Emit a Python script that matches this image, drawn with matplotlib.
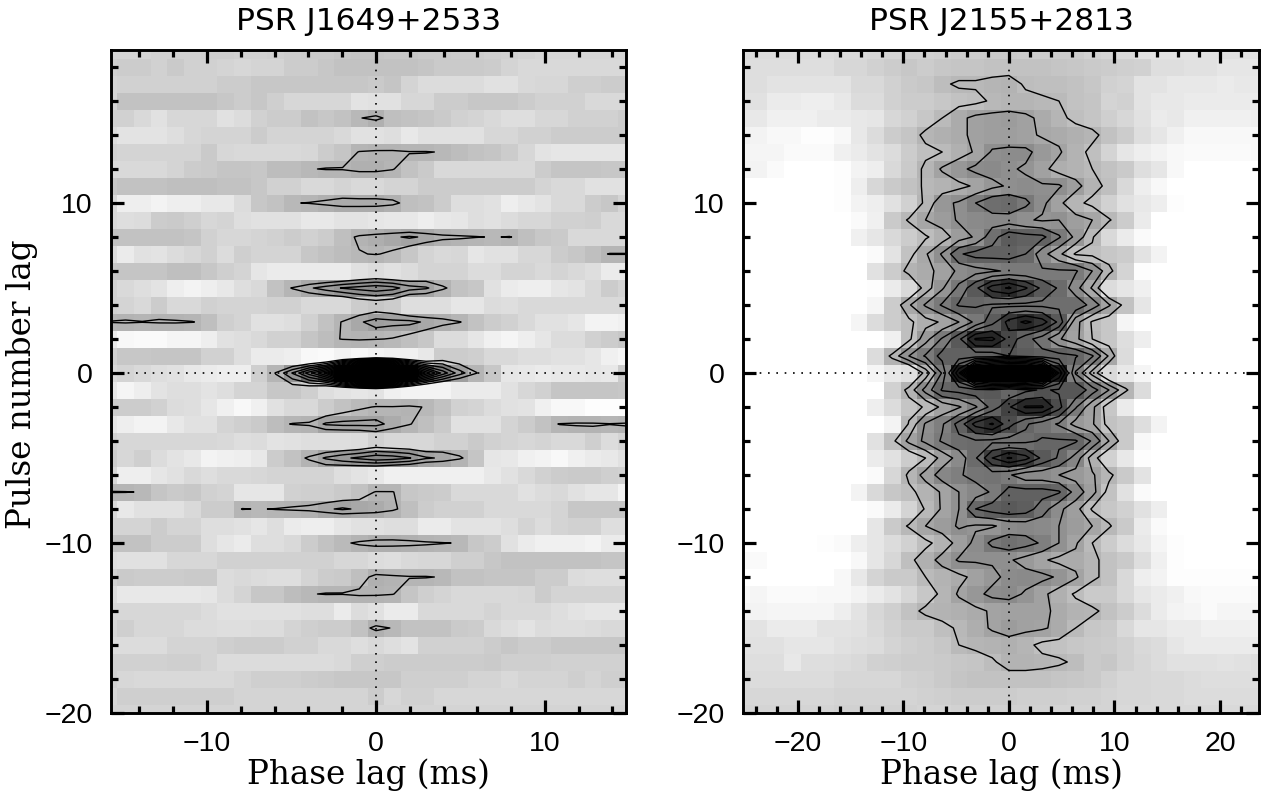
import numpy as np
import matplotlib
matplotlib.use("Agg")
import matplotlib.pyplot as plt
from matplotlib.ticker import MultipleLocator

# pulse number lag of each row, phase bin index of each column
lags = list(range(19, -21, -1))
bins = list(range(-16, 16))
bin_ms_left = 0.988
bin_ms_right = 1.58

# darkness (0 white, 100 black), columns are bins -16..15
left_rows = [
    [17,17,17,18,18,18,19,19,18,18,19,20,21,21,22,23,23, 22,22,21,21,20,20,19,18,17,16,16,16,16,16,16],
    [19,20,20,18,21,18,18,17,16,17,17,20,20,22,24,24,24, 24,24,23,21,21,21,20,17,15,15,15,15,15,15,15],
    [17,18,18,18,18,18,18,20,20,22,22,22,22,22,22,22,21, 23,17,14,14,14,14,12,12,15,16,16,19,19,20,20],
    [17,24,24,24,24,24,24,22,20,22,19,16,16,16,16,11,12, 12,16,16,20,20,22,22,22,20,18,18,18,15,15,15],
    [18,18,15,12,16,16,16,12,14,18,20,20,24,22,24,28,31, 25,24,23,21,18,17,15,13,13,16,16,18,18,18,20],
    [14,11,11,11,13,16,17,17,17,20,17,17,17,17,15,12,12, 13,9,12,12,12,12,16,16,18,18,20,20,20,20,20],
    [18,17,17,17,17,17,21,16,15,15,15,15,16,20,23,29,30, 30,29,29,28,26,24,23,20,16,11,10,10,10,10,10],
    [15,15,15,15,17,20,21,23,23,22,26,26,28,29,29,31,31, 29,24,21,15,15,15,15,15,15,20,23,23,23,22,22],
    [22,24,24,24,25,25,25,24,24,22,18,18,15,15,17,15,15, 17,17,20,20,20,20,20,20,20,17,15,15,12,12,12],
    [15,7,7,5,7,7,9,9,14,22,24,28,29,31,33,33,33, 31,25,24,20,13,13,12,7,9,11,15,15,20,22,17],
    [15,13,14,20,21,19,16,17,13,12,12,12,9,9,11,11,10, 9,9,7,9,10,13,12,14,16,16,18,18,19,15,15],
    [24,24,24,24,24,23,18,16,16,17,18,20,18,20,25,30,32, 34,36,34,31,30,29,28,29,25,22,21,15,15,15,15],
    [14,8,12,11,14,16,18,14,19,17,17,17,22,24,26,28,29, 27,22,17,15,16,10,12,12,16,16,20,22,25,29,29],
    [22,23,23,23,25,25,22,19,17,10,8,8,8,8,8,12,14, 12,14,17,17,17,14,14,17,17,15,17,15,13,8,8],
    [18,15,13,11,7,5,7,9,13,15,24,29,34,38,42,44,46, 44,38,36,30,24,22,12,8,7,7,10,11,15,20,17],
    [18,17,15,20,15,15,18,17,17,17,18,18,15,15,15,20,22, 20,13,13,13,10,10,14,13,15,15,15,15,15,15,15],
    [29,30,29,30,30,29,25,19,17,12,12,13,18,24,29,34,38, 37,37,34,32,29,24,20,18,15,12,12,10,5,5,6],
    [8,3,2,2,4,4,7,12,13,15,18,18,23,26,29,30,29, 28,25,22,14,14,10,6,4,7,10,14,14,18,20,22],
    [18,22,22,23,23,23,18,18,13,8,8,7,3,2,5,3,5, 6,6,9,20,20,19,15,15,13,13,12,12,10,6,4],
    [15,17,15,13,12,9,8,7,7,19,29,42,58,76,115,175,225, 175,110,72,52,38,29,22,10,9,8,9,9,10,9,20],
    [9,4,7,11,13,13,11,13,17,17,22,22,19,13,11,10,11, 6,5,5,5,8,8,8,12,16,18,23,23,23,23,22],
    [20,20,20,18,14,13,10,6,3,6,12,15,15,20,24,27,29, 29,30,28,24,18,17,14,12,11,6,3,3,1,1,1],
    [10,7,5,5,9,12,12,17,19,21,26,29,30,36,37,37,37, 33,29,25,21,12,12,12,17,20,24,29,30,30,29,30],
    [18,16,16,16,16,16,16,15,13,14,11,12,13,13,13,14,18, 16,16,16,18,18,21,18,17,16,17,15,15,19,14,17],
    [20,16,19,14,11,9,5,6,7,9,20,24,30,36,40,43,46, 45,42,36,34,30,23,10,9,6,5,3,6,8,9,12],
    [16,7,7,10,12,15,13,15,15,16,17,17,17,17,13,11,9, 6,6,6,6,6,6,9,12,15,18,20,21,21,19,18],
    [29,29,28,23,21,22,18,17,10,10,10,18,19,19,21,24,29, 29,22,21,20,15,15,15,15,12,14,15,12,10,10,5],
    [15,9,12,12,12,15,20,20,29,28,29,30,31,34,36,34,33, 30,25,20,18,18,18,15,15,15,15,17,22,22,22,22],
    [17,17,17,20,17,17,13,13,12,10,13,8,7,7,10,12,12, 13,13,8,8,11,11,11,13,17,14,17,18,18,13,13],
    [24,24,24,20,20,20,13,10,8,13,13,15,20,24,27,30,32, 32,31,30,29,28,22,20,12,8,6,6,6,5,8,8],
    [13,12,12,12,16,16,16,18,18,18,18,18,18,18,16,16,14, 13,15,16,16,19,19,22,24,24,24,24,24,24,23,23],
    [18,21,20,20,20,21,21,14,15,14,13,13,17,20,21,25,31, 30,29,29,28,24,24,23,23,23,20,20,14,13,13,13],
    [14,9,9,9,9,9,10,14,17,22,22,26,28,29,29,30,30, 29,23,19,17,15,15,15,15,16,20,17,17,17,17,17],
    [16,16,16,16,16,16,14,12,12,12,12,12,13,13,8,14,12, 8,8,15,15,15,15,17,15,15,15,13,11,10,10,10],
    [16,19,16,16,16,14,14,13,13,14,14,17,19,20,20,24,31, 28,24,24,24,21,20,15,13,11,14,13,13,14,15,15],
    [14,14,14,14,17,17,17,19,20,20,20,18,18,15,15,13,15, 13,11,18,18,18,18,20,22,20,20,22,22,22,22,22],
    [18,18,18,18,19,19,17,14,14,14,14,14,14,14,15,19,19, 20,20,20,20,20,20,21,19,19,19,18,18,18,18,18],
    [18,16,15,15,15,15,15,15,17,19,19,19,20,21,22,22,22, 22,19,19,19,19,17,17,15,17,17,17,19,17,19,19],
    [16,19,19,19,19,19,19,19,17,17,17,17,17,17,17,17,20, 16,18,18,16,16,16,16,16,16,16,16,16,16,16,16],
    [17,17,17,17,17,17,17,17,17,17,17,17,17,17,17,17,17, 17,17,17,17,17,17,17,17,17,17,17,17,17,17,17],
]

right_rows = [
    [14,14,14,14,14,14,15,15,16,17,18, 18,19,20,20,21,21,20,20,20,20,18, 17,15,12,12,12,12,12,12,12,12],
    [13,13,13,13,13,13,16,16,18,20,22, 20,22,23,23,24,24,24,24,23,22,21, 20,19,18,13,13,12,12,10,10,10],
    [13,13,11,11,11,11,11,15,15,18,21, 22,26,28,28,29,30,26,25,25,24,22, 18,17,11,11,9,9,9,8,9,9],
    [12,12,8,8,7,7,9,14,14,18,20, 20,22,24,25,28,29,29,28,27,24,23, 17,18,11,9,9,8,8,8,8,8],
    [9,9,6,6,6,8,8,9,10,16,18, 22,27,33,37,38,39,37,33,29,25,23, 19,16,12,8,9,6,6,6,6,7],
    [6,5,3,3,1,1,3,9,14,20,23, 29,31,33,37,38,38,37,34,33,31,29, 24,20,13,10,6,3,3,3,3,3],
    [4,4,4,2,2,2,6,8,11,14,20, 25,27,31,36,44,45,45,40,36,30,25, 17,10,7,5,3,2,2,2,2,3],
    [5,5,2,0,0,0,1,5,7,15,21, 29,36,41,45,46,44,42,37,32,30,27, 24,21,13,10,3,0,0,0,0,0],
    [0,0,0,0,0,0,1,7,16,21,24, 28,30,33,36,41,44,45,44,44,38,30, 25,15,7,3,0,0,0,0,0,0],
    [0,0,0,0,0,0,1,5,7,12,18, 29,41,44,51,57,58,53,45,37,29,25, 18,12,9,7,1,0,0,0,0,0],
    [0,0,0,0,0,0,0,2,6,21,28, 35,39,44,46,47,47,44,42,43,38,35, 28,20,8,0,0,0,0,0,0,0],
    [0,0,0,0,0,0,0,6,10,15,20, 26,31,39,44,56,64,62,61,52,41,28, 15,8,2,0,0,0,0,0,0,0],
    [0,0,0,0,0,0,0,0,2,11,24, 34,44,58,62,62,62,59,46,37,26,25, 22,20,11,5,0,0,0,0,0,0],
    [0,0,0,0,0,0,0,0,12,20,30, 33,37,45,48,50,52,52,52,52,52,43, 30,17,1,0,0,0,0,0,0,0],
    [0,0,0,0,0,0,0,0,1,8,15, 31,42,53,65,79,84,76,65,58,46,34, 14,10,6,0,0,0,0,0,0,0],
    [0,0,0,0,0,0,0,0,4,20,34, 44,52,60,60,58,57,57,57,57,57,48, 36,24,10,0,0,0,0,0,0,0],
    [0,0,0,0,0,0,0,4,14,20,25, 32,36,43,53,64,78,85,79,65,38,26, 22,4,0,0,0,0,0,0,0,0],
    [0,0,0,0,0,0,0,0,0,6,25, 40,52,65,84,85,72,62,55,44,37,27, 22,13,7,0,0,0,0,0,0,0],
    [0,0,0,0,0,0,0,0,14,30,43, 52,62,62,62,62,67,64,62,62,60,52, 34,14,0,0,0,0,0,0,0,0],
    [0,0,0,0,0,0,0,0,4,9,12, 30,52,90,150,170,175,175,150,90,50,32, 15,9,4,0,0,0,0,0,0,0],
    [0,0,0,0,0,0,0,0,0,18,30, 46,60,62,64,65,60,65,68,66,66,55, 43,29,14,0,0,0,0,0,0,0],
    [0,0,0,0,0,0,0,0,7,14,23, 28,37,42,50,62,74,84,84,70,52,37, 22,8,0,0,0,0,0,0,0,0],
    [0,0,0,0,0,0,0,0,0,5,28, 44,50,62,78,84,70,60,55,50,40,36, 24,21,13,5,0,0,0,0,0,0],
    [0,0,0,0,0,0,0,0,12,25,37, 45,52,57,58,57,56,57,60,60,60,50, 35,21,3,0,0,0,0,0,0,0],
    [0,0,0,0,0,0,0,0,8,12,20, 27,38,46,58,75,84,78,65,58,48,31, 18,9,1,0,0,0,0,0,0,0],
    [0,0,0,0,0,0,0,0,2,16,29, 38,47,50,54,55,52,46,46,43,40,36, 29,21,11,0,0,0,0,0,0,0],
    [0,0,0,0,0,0,0,5,15,22,25, 30,36,43,47,52,62,62,62,60,48,38, 24,12,2,0,0,0,0,0,0,0],
    [0,0,0,0,0,0,0,0,2,8,17, 28,36,43,59,63,65,63,55,45,38,26, 22,18,12,7,0,0,0,0,0,0],
    [0,0,0,0,0,0,0,0,10,21,28, 35,39,44,42,42,46,47,46,43,39,35, 28,21,8,2,0,0,0,0,0,0],
    [0,0,0,0,0,1,2,7,10,14,18, 25,30,38,45,53,56,54,50,43,36,27, 20,14,9,4,1,0,0,0,0,0],
    [3,2,0,0,0,0,0,3,10,16,25, 31,38,44,44,44,44,40,36,33,33,29, 24,21,13,6,1,0,0,0,0,0],
    [0,0,0,0,0,0,3,9,17,21,21, 27,30,33,37,41,45,46,45,42,36,29, 24,15,7,5,1,1,1,1,1,1],
    [3,4,2,2,2,3,3,5,8,11,16, 22,29,36,41,45,46,42,37,31,26,21, 21,15,10,8,6,3,2,2,2,3],
    [5,5,4,4,4,4,7,11,16,19,24, 29,30,31,33,36,37,37,37,33,30,29, 24,20,14,8,5,4,2,4,4,4],
    [11,11,8,8,8,11,11,12,15,18,21, 21,25,28,32,36,39,37,36,33,27,22, 21,15,10,10,8,8,6,6,6,6],
    [12,12,12,10,10,10,12,13,14,17,19, 20,22,27,29,30,31,29,25,24,22,21, 20,18,15,14,10,8,8,8,8,8],
    [13,13,13,9,13,13,14,15,18,19,20, 20,21,22,23,26,30,30,29,28,26,21, 22,18,16,14,12,12,12,11,12,13],
    [16,14,14,14,14,14,16,16,16,16,18, 19,21,23,24,24,24,24,24,23,22,21, 18,16,16,15,15,14,13,13,13,13],
    [16,16,16,16,16,16,17,17,17,17,17, 18,19,20,20,20,20,19,19,19,18,18, 17,16,16,15,15,14,14,14,14,14],
    [17,17,17,17,17,17,18,18,18,18,18, 17,17,18,18,18,18,18,18,17,17,17, 17,15,15,15,15,15,15,15,15,15],
]

# contour levels, in the same darkness units
left_levels = [28.5 + 6.5 * k for k in range(31)]
right_levels = [27 + 8 * k for k in range(20)]

titles = ["PSR J1649+2533", "PSR J2155+2813"]

W, H = 1263, 796
fig = plt.figure(figsize=(W / 100, H / 100), dpi=100)


def draw_panel(box, rows, bin_ms, levels, xlim, title):
    left, right, top, bottom = box
    ax = fig.add_axes([left / W, 1 - bottom / H, (right - left) / W, (bottom - top) / H])
    z = np.array(rows, dtype=float)
    x = np.array(bins) * bin_ms
    y = np.array(lags, dtype=float)
    ax.pcolormesh(x, y, z, cmap="gray_r", vmin=0, vmax=100, shading="nearest")
    ax.contour(x, y, z, levels=levels, colors="black", linewidths=1.0, linestyles="solid")
    ax.axhline(0, color="black", lw=1.2, ls=(0, (1, 4)))
    ax.axvline(0, color="black", lw=1.2, ls=(0, (1, 4)))
    ax.set_xlim(xlim)
    ax.set_ylim(-20, 19)
    ax.xaxis.set_major_locator(MultipleLocator(10))
    ax.yaxis.set_major_locator(MultipleLocator(10))
    ax.xaxis.set_minor_locator(MultipleLocator(2))
    ax.yaxis.set_minor_locator(MultipleLocator(2))
    ax.tick_params(which="both", direction="in", top=True, right=True, width=2.3)
    ax.tick_params(which="major", length=9.5, labelsize=20.5, pad=13)
    ax.tick_params(which="minor", length=5)
    for lab in ax.get_xticklabels() + ax.get_yticklabels():
        lab.set_family("Liberation Sans")
    for s in ax.spines.values():
        s.set_linewidth(2.1)
    fig.text((left + right) / 2 / W, 1 - 22 / H, title, ha="center", va="center",
             fontsize=22.5, family="DejaVu Sans")
    fig.text((left + right) / 2 / W, 1 - 775 / H, "Phase lag (ms)", ha="center", va="center",
             fontsize=23.5, family="DejaVu Serif")
    return ax


draw_panel((111, 626, 50, 713), left_rows, bin_ms_left, left_levels, (-15.68, 14.8), titles[0])
draw_panel((743, 1259, 50, 713), right_rows, bin_ms_right, right_levels, (-25.2, 23.7), titles[1])
fig.text(22 / W, 1 - 384 / H, "Pulse number lag", rotation=90, ha="center", va="center",
         fontsize=23.5, family="DejaVu Serif")

fig.savefig("out.png", dpi=100)
